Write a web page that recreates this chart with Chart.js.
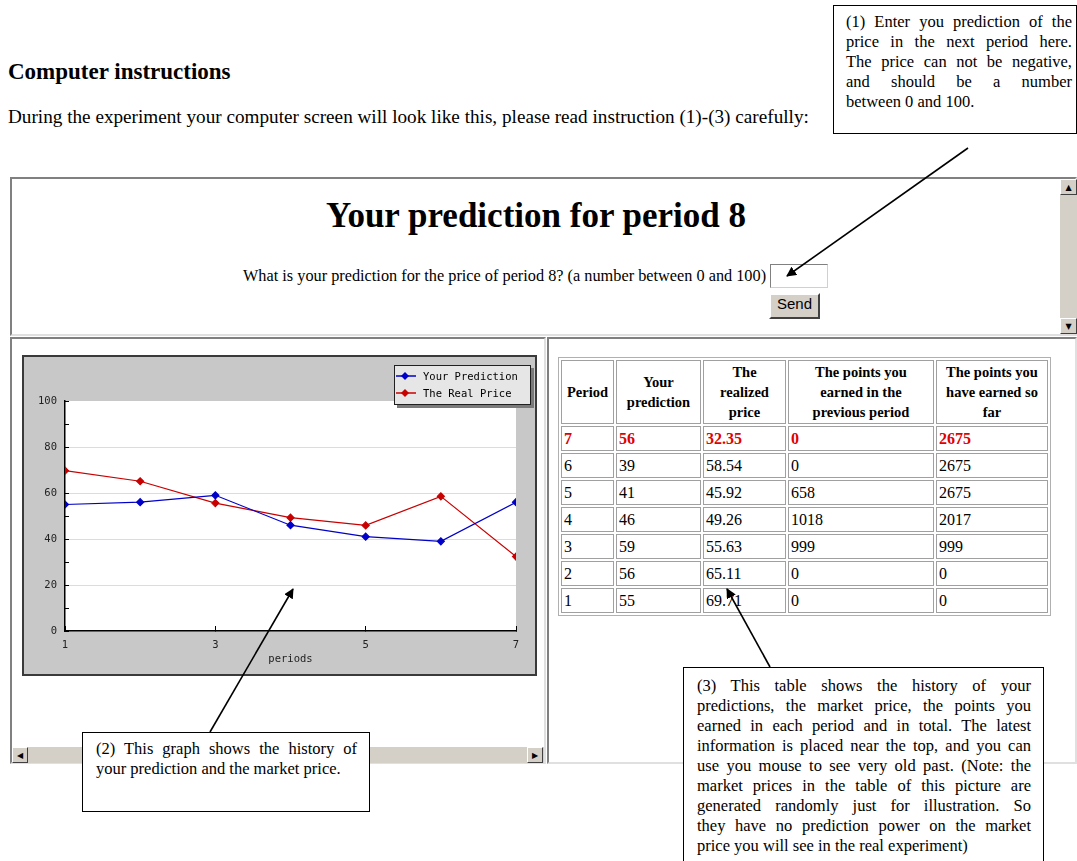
<!DOCTYPE html>
<html>
<head>
<meta charset="utf-8">
<script src="https://cdn.jsdelivr.net/npm/chart.js@4.4.1/dist/chart.umd.min.js"></script>
<style>
  html, body { margin: 0; padding: 0; background: #fff; }
  body { width: 1077px; height: 861px; position: relative; overflow: hidden; font-family: "Liberation Serif", "Times New Roman", serif; color: #000; }
  .abs { position: absolute; }
  h1 { position: absolute; left: 8px; top: 59px; margin: 0; font-size: 23px; font-weight: bold; }
  .intro { left: 8px; top: 106px; font-size: 19.2px; white-space: nowrap; }
  .note { background: #fff; border: 1px solid #000; box-sizing: border-box; font-size: 16.5px; line-height: 20px; }
  .note .j { text-align: justify; text-align-last: justify; }
  .frame { border: 2px solid; border-color: #808080 #e0e0e0 #e0e0e0 #808080; box-sizing: border-box; background: #fff; }
  .sb { background: #d4d0c8; }
  .btn { position: absolute; background: #d4d0c8; border: 1px solid; border-color: #fff #404040 #404040 #fff; box-sizing: border-box; font: 8px "DejaVu Sans"; color: #000; text-align: center; }
  .ptitle { left: 12px; width: 1048px; top: 196px; text-align: center; font-size: 35px; font-weight: bold; }
  .question { left: 243px; top: 266px; font-size: 16.3px; white-space: nowrap; }
  #chartBox { left: 22px; top: 355px; width: 515px; height: 321px; background: #c8c8c8; border: 2px solid #3a3a3a; box-sizing: border-box; }
  table.hist { position: absolute; left: 558px; top: 357px; border: 1px solid #b0b0b0; border-spacing: 2px; border-collapse: separate; }
  table.hist td, table.hist th { border: 1px solid #a0a0a0; padding: 0 2px; }
  table.hist th { font-size: 14.5px; font-weight: bold; line-height: 20px; height: 62px; text-align: center; }
  table.hist td { font-size: 16px; height: 23px; text-align: left; }
  table.hist tr.now td { color: #e00000; font-weight: bold; }
</style>
</head>
<body>

<h1>Computer instructions</h1>
<div class="abs intro">During the experiment your computer screen will look like this, please read instruction (1)-(3) carefully:</div>

<!-- top frame -->
<div class="abs frame" style="left:10px; top:177px; width:1067px; height:159px;"></div>
<div class="abs sb" style="left:1060px; top:179px; width:17px; height:155px;"></div>
<div class="btn" style="left:1060px; top:179px; width:17px; height:16px; line-height:15px;">&#9650;</div>
<div class="btn" style="left:1060px; top:318px; width:17px; height:16px; line-height:15px;">&#9660;</div>
<div class="abs ptitle">Your prediction for period 8</div>
<div class="abs question">What is your prediction for the price of period 8? (a number between 0 and 100)</div>
<div class="abs" style="left:770px; top:264px; width:58px; height:24px; border:1px solid #808080; border-color:#808080 #d0d0d0 #d0d0d0 #808080; box-sizing:border-box; background:#fff;"></div>
<div class="btn" style="left:769px; top:293px; width:51px; height:26px; line-height:23px; font:15px 'Liberation Sans', Arial, sans-serif; border:2px solid; border-color:#fff #404040 #404040 #fff;">Send</div>

<!-- bottom left frame -->
<div class="abs frame" style="left:10px; top:337px; width:536px; height:427px;"></div>
<div class="abs sb" style="left:12px; top:747px; width:532px; height:16px;"></div>
<div class="btn" style="left:12px; top:747px; width:16px; height:16px; line-height:15px;">&#9664;</div>
<div class="btn" style="left:527px; top:747px; width:16px; height:16px; line-height:15px;">&#9654;</div>
<div id="chartBox" class="abs"><canvas id="priceChart" width="511" height="317"></canvas></div>

<!-- bottom right frame -->
<div class="abs frame" style="left:547px; top:337px; width:530px; height:427px;"></div>
<table class="hist" id="histTable">
  <tr>
    <th style="width:47px;">Period</th>
    <th style="width:79px;">Your<br>prediction</th>
    <th style="width:77px;">The<br>realized<br>price</th>
    <th style="width:140px;">The points you<br>earned in the<br>previous period</th>
    <th style="width:106px;">The points you<br>have earned so<br>far</th>
  </tr>
</table>

<!-- callouts -->
<div class="abs note" style="left:833px; top:5px; width:244px; height:129px; padding:6px 4px 0 12px;">
  <div class="j">(1) Enter you prediction of the</div>
  <div class="j">price in the next period here.</div>
  <div class="j">The price can not be negative,</div>
  <div class="j">and should be a number</div>
  <div>between 0 and 100.</div>
</div>
<div class="abs note" style="left:82px; top:732px; width:288px; height:80px; padding:6px 12px 0 13px;">
  <div class="j">(2) This graph shows the history of</div>
  <div>your prediction and the market price.</div>
</div>
<div class="abs note" style="left:683px; top:667px; width:361px; height:200px; padding:8px 12px 0 13px;">
  <div class="j">(3) This table shows the history of your</div>
  <div class="j">predictions, the market price, the points you</div>
  <div class="j">earned in each period and in total. The latest</div>
  <div class="j">information is placed near the top, and you can</div>
  <div class="j">use you mouse to see very old past. (Note: the</div>
  <div class="j">market prices in the table of this picture are</div>
  <div class="j">generated randomly just for illustration. So</div>
  <div class="j">they have no prediction power on the market</div>
  <div>price you will see in the real experiment)</div>
</div>

<!-- arrows -->
<svg class="abs" style="left:0; top:0;" width="1077" height="861">
  <defs>
    <marker id="head" markerWidth="10" markerHeight="10" refX="9" refY="5" orient="auto" markerUnits="userSpaceOnUse">
      <path d="M0,0 L10,5 L0,10 Z" fill="#000"/>
    </marker>
  </defs>
  <line x1="968" y1="148" x2="787" y2="276" stroke="#000" stroke-width="1.6" marker-end="url(#head)"/>
  <line x1="210" y1="732" x2="293" y2="589" stroke="#000" stroke-width="1.6" marker-end="url(#head)"/>
  <line x1="770" y1="667" x2="727" y2="589" stroke="#000" stroke-width="1.6" marker-end="url(#head)"/>
</svg>

<script>
const periods = [1, 2, 3, 4, 5, 6, 7];
const yourPrediction = [55, 56, 59, 46, 41, 39, 56];
const realPrice = [69.71, 65.11, 55.63, 49.26, 45.92, 58.54, 32.35];
const pointsPrevious = [0, 0, 999, 1018, 658, 0, 0];
const pointsTotal = [0, 0, 999, 2017, 2675, 2675, 2675];
const xTickLabels = [1, 3, 5, 7];
const yTickLabels = [0, 20, 40, 60, 80, 100];
const seriesNames = ['Your Prediction', 'The Real Price'];
const seriesColors = ['#0000c8', '#c80000'];

// history table, latest period on top
(function () {
    const table = document.getElementById('histTable');
    for (let i = periods.length - 1; i >= 0; i--) {
        const tr = document.createElement('tr');
        if (i === periods.length - 1) tr.className = 'now';
        [periods[i], yourPrediction[i], realPrice[i].toFixed(2), pointsPrevious[i], pointsTotal[i]].forEach(function (v) {
            const td = document.createElement('td');
            td.textContent = v;
            tr.appendChild(td);
        });
        table.appendChild(tr);
    }
})();

const monoFont = { family: 'DejaVu Sans Mono', size: 10.5 };

const plotBg = {
    id: 'plotBg',
    beforeDraw(chart) {
        const a = chart.chartArea;
        const ctx = chart.ctx;
        ctx.save();
        ctx.fillStyle = '#ffffff';
        ctx.fillRect(a.left, a.top, a.right - a.left, a.bottom - a.top);
        ctx.restore();
    },
};

// old java-applet style legend box, overlapping the plot top
const boxLegend = {
    id: 'boxLegend',
    afterDraw(chart) {
        const ctx = chart.ctx;
        const right = chart.chartArea.right + 15;
        const w = 137, h = 40;
        const x = right - w, y = 8;
        ctx.save();
        ctx.fillStyle = '#7a7a7a';
        ctx.fillRect(x + 3, y + 3, w, h);
        ctx.fillStyle = '#e6e6e6';
        ctx.fillRect(x, y, w, h);
        ctx.strokeStyle = '#202020';
        ctx.lineWidth = 1;
        ctx.strokeRect(x + 0.5, y + 0.5, w - 1, h - 1);
        ctx.font = monoFont.size + 'px ' + monoFont.family;
        ctx.textBaseline = 'middle';
        chart.data.datasets.forEach(function (ds, i) {
            const cy = y + 11 + i * 17;
            ctx.strokeStyle = ds.borderColor;
            ctx.lineWidth = 1.5;
            ctx.beginPath();
            ctx.moveTo(x + 2, cy);
            ctx.lineTo(x + 22, cy);
            ctx.stroke();
            ctx.fillStyle = ds.borderColor;
            ctx.beginPath();
            ctx.moveTo(x + 11, cy - 4);
            ctx.lineTo(x + 15, cy);
            ctx.lineTo(x + 11, cy + 4);
            ctx.lineTo(x + 7, cy);
            ctx.closePath();
            ctx.fill();
            ctx.fillStyle = '#000';
            ctx.fillText(ds.label, x + 29, cy + 1);
        });
        ctx.restore();
    },
};

new Chart(document.getElementById('priceChart'), {
    type: 'line',
    data: {
        datasets: [yourPrediction, realPrice].map(function (vals, k) {
            return {
                label: seriesNames[k],
                data: periods.map(function (p, i) { return { x: p, y: vals[i] }; }),
                borderColor: seriesColors[k],
                backgroundColor: seriesColors[k],
                borderWidth: 1.2,
                pointStyle: 'rectRot',
                pointRadius: 3.5,
                pointBackgroundColor: seriesColors[k],
                pointBorderColor: seriesColors[k],
                tension: 0,
            };
        }),
    },
    options: {
        responsive: false,
        animation: false,
        layout: { padding: { left: 8, top: 44, right: 19, bottom: 8 } },
        plugins: {
            legend: { display: false },
            tooltip: { enabled: false },
        },
        scales: {
            x: {
                type: 'linear',
                min: 1,
                max: 7,
                afterBuildTicks(scale) {
                    scale.ticks = xTickLabels.map(function (v) { return { value: v }; });
                },
                afterFit(scale) { scale.height = 35; },
                border: { display: true, color: '#000', width: 1.5 },
                grid: { drawOnChartArea: false, tickLength: -5, tickColor: '#000' },
                ticks: { color: '#222', font: monoFont, padding: 13, maxRotation: 0 },
                title: { display: true, text: 'periods', color: '#222', font: monoFont, padding: { top: -2, bottom: 0 } },
            },
            y: {
                min: 0,
                max: 100,
                afterBuildTicks(scale) {
                    const t = [];
                    for (let v = 0; v <= 100; v += 10) t.push({ value: v });
                    scale.ticks = t;
                },
                afterFit(scale) { scale.width = 33; },
                border: { display: true, color: '#000', width: 1.5 },
                grid: {
                    tickLength: -4,
                    tickColor: '#000',
                    color(c) {
                        const v = c.tick && c.tick.value;
                        return (v > 0 && v < 100 && v % 20 === 0) ? '#dcdcdc' : 'rgba(0,0,0,0)';
                    },
                },
                ticks: {
                    color: '#222',
                    font: monoFont,
                    padding: 12,
                    callback(v) { return yTickLabels.indexOf(v) >= 0 ? String(v) : ''; },
                },
            },
        },
    },
    plugins: [plotBg, boxLegend],
});
</script>
</body>
</html>
